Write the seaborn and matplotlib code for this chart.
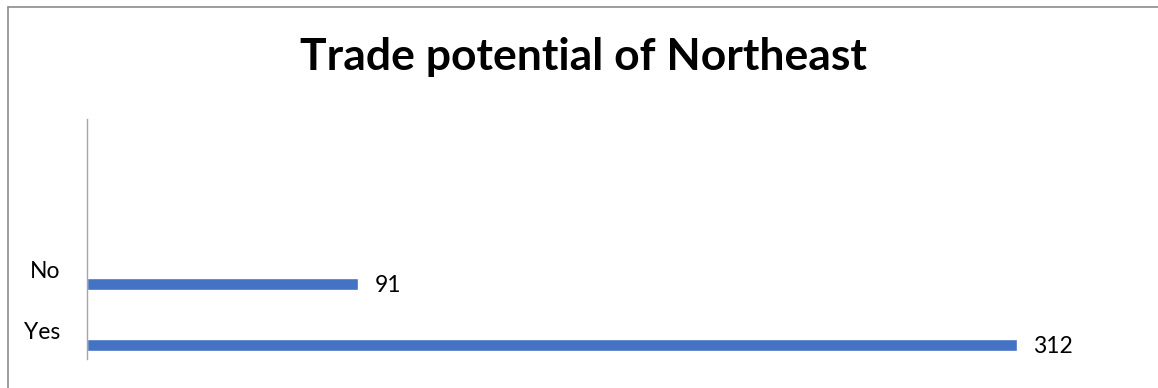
import matplotlib
matplotlib.use("Agg")
import matplotlib.pyplot as plt
import seaborn as sns
import pandas as pd
import numpy as np
from matplotlib.lines import Line2D

categories = ["No", "Yes"]
counts = [91, 312]
title = "Trade potential of Northeast"

df = pd.DataFrame({"answer": categories, "count": counts})

sns.set_theme(style="white")
plt.rcParams["font.family"] = ["Lato", "DejaVu Sans"]

W, H = 1158, 388
fig = plt.figure(figsize=(W / 100, H / 100), dpi=100)
fig.patch.set_facecolor("white")

# axes placed in pixel terms
left, right, top, bottom = 87, 1130, 119, 359
ax = fig.add_axes([left / W, 1 - bottom / H, (right - left) / W, (bottom - top) / H])

sns.barplot(data=df, x="count", y="answer", order=categories, orient="h",
            color="#4472C4", saturation=1, width=0.2, ax=ax)

ax.set_xlim(0, 350)
ax.set_ylim(1.23, -2.705)
ax.set_xlabel("")
ax.set_ylabel("")
ax.set_xticks([])
for s in ["top", "right", "bottom"]:
    ax.spines[s].set_visible(False)
ax.spines["left"].set_color("#A6A6A6")
ax.spines["left"].set_linewidth(1.0)

ax.set_yticks(np.arange(len(categories)) - 0.23, labels=categories)
ax.tick_params(axis="y", length=0, pad=19, labelsize=16.5, labelcolor="#000000")

for i, v in enumerate(counts):
    ax.text(v + 5.4, i + 0.03, f"{v}", va="center", ha="left", fontsize=16.5, color="#000000")

fig.text(583 / W, 1 - 57 / H, title, ha="center", va="center",
         fontsize=32, fontweight="bold", color="#000000")

# chart frame: top and left edges
fig.add_artist(Line2D([8 / W, 1], [1 - 7 / H, 1 - 7 / H], transform=fig.transFigure,
                      color="#8C8C8C", linewidth=1.2))
fig.add_artist(Line2D([8 / W, 8 / W], [0, 1 - 7 / H], transform=fig.transFigure,
                      color="#8C8C8C", linewidth=1.2))

fig.savefig("out.png", dpi=100, facecolor="white")
